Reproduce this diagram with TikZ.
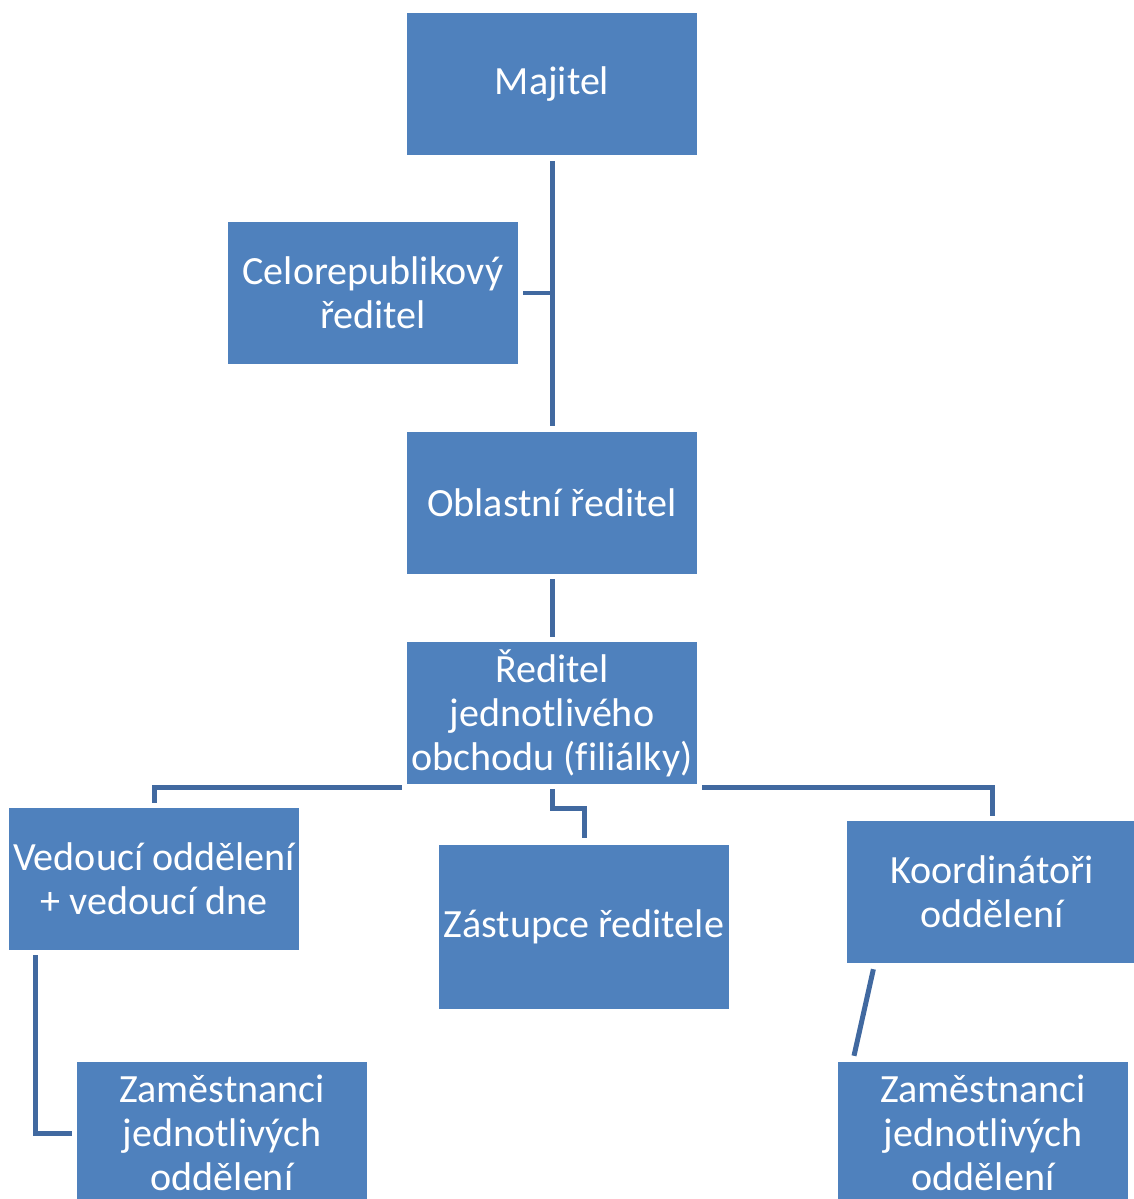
\documentclass[tikz,border=0pt]{standalone}
\usepackage{fontspec}
\setmainfont{Carlito}[Ligatures=NoCommon]
\usepackage{tikz}
\usepackage{xcolor}
\usetikzlibrary{calc, positioning}
\definecolor{boxblue}{RGB}{79, 129, 189}
\definecolor{lineblue}{RGB}{65, 105, 160}

\begin{document}
\begin{tikzpicture}[x=0.02cm, y=-0.02cm]%{{{
        \useasboundingbox (0, 0) rectangle (1133, 1199);

        \tikzstyle{box} = [fill=boxblue, text=white, align=center, inner sep=0pt,
            minimum width=5.8cm, minimum height=2.84cm,
            font=\fontsize{22.8}{25}\selectfont];
        \tikzstyle{conn} = [draw=lineblue, line width=0.1cm];

        \node [box] (maj) at (552,   84) {Majitel};
        \node [box] (cel) at (373,  293) {Celorepublikový\\ředitel};
        \node [box] (obl) at (552,  503) {Oblastní ředitel};
        \node [box] (red) at (552,  713) {Ředitel\\jednotlivého\\obchodu (filiálky)};

        \node [box] (ved) at (154,  879) {Vedoucí oddělení\\+ vedoucí dne};
        \node [box, minimum height=3.3cm] (zas) at (584, 927) {Zástupce ředitele};
        \node [box] (koo) at (992,  892) {Koordinátoři\\oddělení};

        \node [box] (zal) at (222, 1133) {Zaměstnanci\\jednotlivých\\oddělení};
        \node [box] (zar) at (983, 1133) {Zaměstnanci\\jednotlivých\\oddělení};

        \draw [conn, shorten <=0.12cm, shorten >=0.12cm] (maj) -- (obl);
        \draw [conn, shorten <=0.1cm] (cel.east) -- (cel.east -| maj);
        \draw [conn, shorten <=0.1cm, shorten >=0.1cm] (obl) -- (red);

        \draw [conn, shorten >=0.1cm] ($(red.south west) + (-5, 3)$) -| (ved.north);
        \draw [conn, shorten >=0.1cm] ($(red.south east) + ( 5, 3)$) -| (koo.north);
        \draw [conn, shorten <=0.1cm, shorten >=0.12cm]
            (red.south) |- ($(red.south)!0.4!(zas.north)$) -| (zas.north);

        \draw [conn, shorten <=0.1cm, shorten >=0.1cm]
            ($(ved.south west) + (27, 0)$) |- (zal.west);
        \draw [conn, shorten <=0.12cm, shorten >=0.12cm]
            ($(koo.south west) + (28, 0)$) -- ($(zar.north west) + (15, 0)$);
    \end{tikzpicture}
\end{document}
